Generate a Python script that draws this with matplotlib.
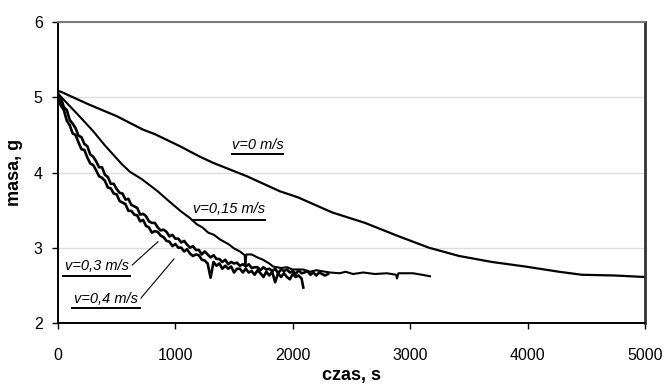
import numpy as np
import matplotlib.pyplot as plt

plt.rcParams['font.family'] = ['Liberation Sans', 'DejaVu Sans']

# v = 0 m/s
t_v0 = [0, 17, 256, 500, 725, 826, 1039, 1210, 1320, 1610, 1891, 2044, 2334, 2615, 2905,
        3160, 3416, 3697, 3978, 4268, 4463, 4745, 5000]
m_v0 = [5.07, 5.08, 4.91, 4.75, 4.57, 4.51, 4.35, 4.21, 4.13, 3.95, 3.75, 3.67, 3.47, 3.33, 3.15,
        3.0, 2.89, 2.81, 2.75, 2.68, 2.64, 2.63, 2.61]

# v = 0,15 m/s
t_v15 = [0, 60, 170, 300, 400, 545, 613, 716, 850, 937, 1050, 1120, 1184, 1230, 1280, 1330, 1380,
         1450, 1500, 1550, 1590, 1596, 1605, 1650, 1700, 1746, 1800, 1831, 1900, 1950, 2000, 2087,
         2150, 2200, 2317, 2400, 2450, 2513, 2600, 2700, 2802, 2880, 2888, 2900, 3024, 3100, 3169]
m_v15 = [5.05, 4.95, 4.77, 4.55, 4.36, 4.11, 4.01, 3.91, 3.75, 3.63, 3.48, 3.40, 3.31, 3.27, 3.20, 3.17, 3.11,
         3.05, 2.99, 2.95, 2.90, 2.78, 2.91, 2.91, 2.87, 2.84, 2.79, 2.75, 2.73, 2.74, 2.71, 2.71,
         2.68, 2.70, 2.67, 2.66, 2.68, 2.65, 2.67, 2.65, 2.66, 2.64, 2.59, 2.66, 2.66, 2.64, 2.62]

# v = 0,3 m/s (pomiar co 25 s)
t_v30 = np.arange(0, 2301, 25)
m_v30 = [5.05, 4.99, 4.87, 4.83, 4.70, 4.65, 4.59, 4.49, 4.47, 4.38,
         4.35, 4.24, 4.21, 4.15, 4.07, 4.07, 3.97, 3.94, 3.85, 3.85,
         3.78, 3.73, 3.72, 3.64, 3.65, 3.57, 3.55, 3.53, 3.44, 3.45,
         3.42, 3.35, 3.33, 3.33, 3.27, 3.23, 3.24, 3.21, 3.15, 3.17,
         3.12, 3.12, 3.07, 3.09, 3.04, 3.00, 3.02, 2.97, 2.97, 2.91,
         2.95, 2.91, 2.87, 2.90, 2.85, 2.85, 2.81, 2.84, 2.78, 2.81,
         2.79, 2.80, 2.76, 2.78, 2.75, 2.78, 2.73, 2.74, 2.74, 2.70,
         2.74, 2.71, 2.72, 2.69, 2.72, 2.66, 2.71, 2.69, 2.71, 2.67,
         2.69, 2.65, 2.70, 2.66, 2.67, 2.69, 2.64, 2.67, 2.63, 2.67,
         2.65, 2.63, 2.65]

# v = 0,4 m/s (pomiar co 25 s, ostatni punkt 2090 s)
t_v40 = list(range(0, 2076, 25)) + [2090]
m_v40 = [5.00, 4.89, 4.83, 4.69, 4.63, 4.52, 4.50, 4.40, 4.31, 4.30,
         4.20, 4.12, 4.10, 4.03, 3.95, 3.93, 3.89, 3.80, 3.79, 3.72,
         3.71, 3.62, 3.60, 3.58, 3.49, 3.49, 3.44, 3.43, 3.35, 3.37,
         3.29, 3.27, 3.20, 3.22, 3.21, 3.16, 3.14, 3.09, 3.08, 3.02,
         3.05, 3.00, 3.00, 2.95, 2.98, 2.92, 2.89, 2.91, 2.90, 2.84,
         2.83, 2.79, 2.60, 2.81, 2.76, 2.79, 2.72, 2.76, 2.72, 2.75,
         2.67, 2.72, 2.72, 2.67, 2.72, 2.67, 2.69, 2.64, 2.70, 2.66,
         2.61, 2.68, 2.63, 2.68, 2.54, 2.66, 2.61, 2.66, 2.61, 2.58,
         2.65, 2.61, 2.63, 2.59, 2.47]

fig = plt.figure(figsize=(6.64, 3.89), dpi=100)
ax = fig.add_axes([0.0873, 0.170, 0.884, 0.773])

ax.plot(t_v0, m_v0, color='black', lw=1.6)
ax.plot(t_v15, m_v15, color='black', lw=1.5)
ax.plot(t_v30, m_v30, color='black', lw=1.9)
ax.plot(t_v40, m_v40, color='black', lw=1.9)

ax.set_xlim(0, 5000)
ax.set_ylim(2, 6)
ax.set_xticks([0, 1000, 2000, 3000, 4000, 5000])
ax.set_yticks([2, 3, 4, 5, 6])
ax.grid(axis='y', color='#dddddd', lw=1)
ax.set_axisbelow(True)

ax.spines['left'].set_linewidth(1.4)
ax.spines['bottom'].set_linewidth(1.4)
ax.spines['top'].set_color('#777777')
ax.spines['top'].set_linewidth(1.4)
ax.spines['right'].set_color('#333333')
ax.spines['right'].set_linewidth(2)

ax.tick_params(axis='x', length=4, width=1, pad=14, labelsize=11.5)
ax.tick_params(axis='y', length=4, width=1, pad=7, labelsize=11.5)

ax.set_xlabel('czas, s', fontsize=13, fontweight='bold', labelpad=3)
ax.set_ylabel('masa, g', fontsize=13, fontweight='bold', labelpad=8)

# opisy krzywych
lab = dict(fontsize=10.5, style='italic', ha='center', va='center')
ax.text(1700, 4.37, 'v=0 m/s', **lab)
ax.plot([1482, 1917], [4.25, 4.25], color='black', lw=1.4)
ax.text(1457, 3.51, 'v=0,15 m/s', **lab)
ax.plot([1141, 1763], [3.37, 3.37], color='black', lw=1.4)
ax.text(336, 2.75, 'v=0,3 m/s', **lab)
ax.plot([43, 613], [2.63, 2.63], color='black', lw=1.4)
ax.plot([633, 852], [2.77, 3.08], color='black', lw=0.8)
ax.text(409, 2.32, 'v=0,4 m/s', **lab)
ax.plot([119, 698], [2.20, 2.20], color='black', lw=1.4)
ax.plot([707, 988], [2.33, 2.85], color='black', lw=0.8)

fig.savefig('out.png', dpi=100)
